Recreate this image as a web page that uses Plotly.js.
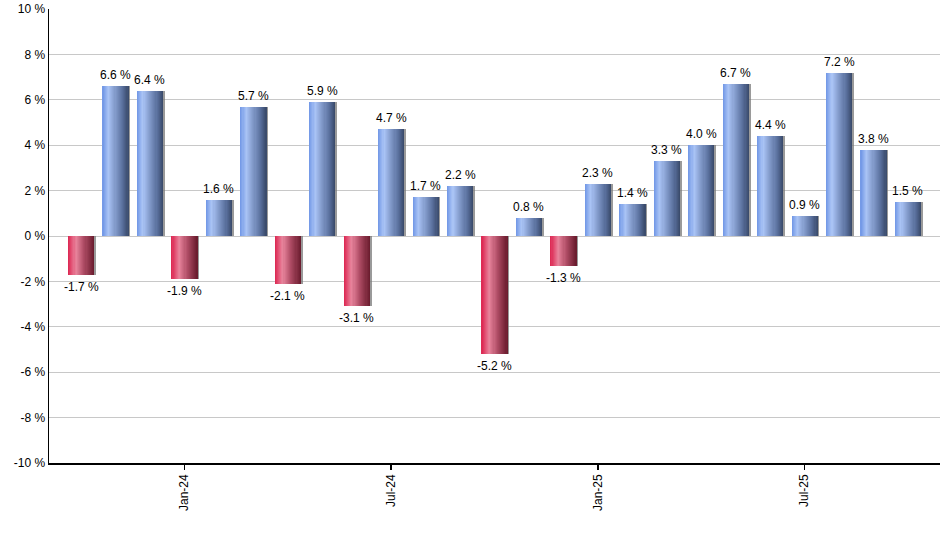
<!DOCTYPE html>
<html>
<head>
<meta charset="utf-8">
<script src="https://cdn.plot.ly/plotly-3.0.1.min.js"></script>
<style>
html,body{margin:0;padding:0;background:#fff;}
#chart{width:940px;height:550px;}
</style>
</head>
<body>
<div id="chart"></div>
<script>
// Monthly returns, Oct-23 .. Oct-25
const months = ["Oct-23","Nov-23","Dec-23","Jan-24","Feb-24","Mar-24","Apr-24","May-24","Jun-24","Jul-24","Aug-24","Sep-24","Oct-24","Nov-24","Dec-24","Jan-25","Feb-25","Mar-25","Apr-25","May-25","Jun-25","Jul-25","Aug-25","Sep-25","Oct-25"];
const returns = [-1.7, 6.6, 6.4, -1.9, 1.6, 5.7, -2.1, 5.9, -3.1, 4.7, 1.7, 2.2, -5.2, 0.8, -1.3, 2.3, 1.4, 3.3, 4.0, 6.7, 4.4, 0.9, 7.2, 3.8, 1.5];
const tickLabels = ["Jan-24","Jul-24","Jan-25","Jul-25"];
const yTickVals = [-10, -8, -6, -4, -2, 0, 2, 4, 6, 8, 10];
const yTickText = ["-10 %","-8 %","-6 %","-4 %","-2 %","0 %","2 %","4 %","6 %","8 %","10 %"];

const xIdx = months.map((m, i) => i);
const tickIdx = tickLabels.map(t => months.indexOf(t));

// gradient stops (position, [r,g,b])
const blueStops = [[0,[112,150,229]],[0.22,[170,196,246]],[0.5,[128,152,200]],[0.78,[88,110,155]],[1,[56,72,104]]];
const redStops  = [[0,[220,36,80]],[0.3,[232,132,156]],[0.6,[176,77,102]],[1,[104,26,44]]];

function interp(stops, t){
  for(let k=0;k<stops.length-1;k++){
    const a=stops[k], b=stops[k+1];
    if(t>=a[0] && t<=b[0]){
      const f=(t-a[0])/(b[0]-a[0]);
      const c=a[1].map((v,j)=>Math.round(v+(b[1][j]-v)*f));
      return 'rgb('+c.join(',')+')';
    }
  }
  return 'rgb('+stops[stops.length-1][1].join(',')+')';
}

const barW = 0.76;
const nStrips = 24;
const traces = [];

// shadow
traces.push({
  type:'bar', x:xIdx, y:returns, width:barW, offset:-barW/2+0.05,
  marker:{color:'rgba(120,120,120,0.75)', line:{width:0}},
  hoverinfo:'skip', showlegend:false
});

for(let s=0;s<nStrips;s++){
  const t=(s+0.5)/nStrips;
  const w=barW/nStrips;
  traces.push({
    type:'bar', x:xIdx, y:returns,
    width:w*1.08, offset:-barW/2 + s*w,
    marker:{color:returns.map(v=> v>=0 ? interp(blueStops,t) : interp(redStops,t)), line:{width:0}},
    hoverinfo:'skip', showlegend:false
  });
}

// value labels
const annotations = returns.map((v,i)=>({
  x:i, y:v, xref:'x', yref:'y',
  text:v.toFixed(1)+' %', showarrow:false,
  xanchor:'center', yanchor:'middle',
  yshift: v>=0 ? 11 : -12,
  font:{family:'Arial, "Liberation Sans", sans-serif', size:12, color:'#000'}
}));

const layout = {
  width:940, height:550,
  margin:{l:49, r:0, t:9, b:87},
  paper_bgcolor:'#fff', plot_bgcolor:'#fff',
  barmode:'overlay', bargap:0,
  showlegend:false,
  annotations:annotations,
  font:{family:'Arial, "Liberation Sans", sans-serif', size:12, color:'#000'},
  xaxis:{
    range:[-0.93, 24.93], tickmode:'array', tickvals:tickIdx, ticktext:tickLabels,
    tickangle:-90, ticks:'outside', ticklen:5, tickcolor:'#000', tickwidth:1.5,
    showline:true, linecolor:'#000', linewidth:1.5, showgrid:false, zeroline:false,
    tickfont:{size:12, color:'#000'}
  },
  yaxis:{
    range:[-10,10], tickmode:'array', tickvals:yTickVals, ticktext:yTickText,
    showline:true, linecolor:'#000', linewidth:1.5, ticks:'',
    gridcolor:'#c8c8c8', gridwidth:1, zeroline:false,
    tickfont:{size:12, color:'#000'}
  }
};

Plotly.newPlot('chart', traces, layout, {displayModeBar:false, staticPlot:true});
</script>
</body>
</html>
